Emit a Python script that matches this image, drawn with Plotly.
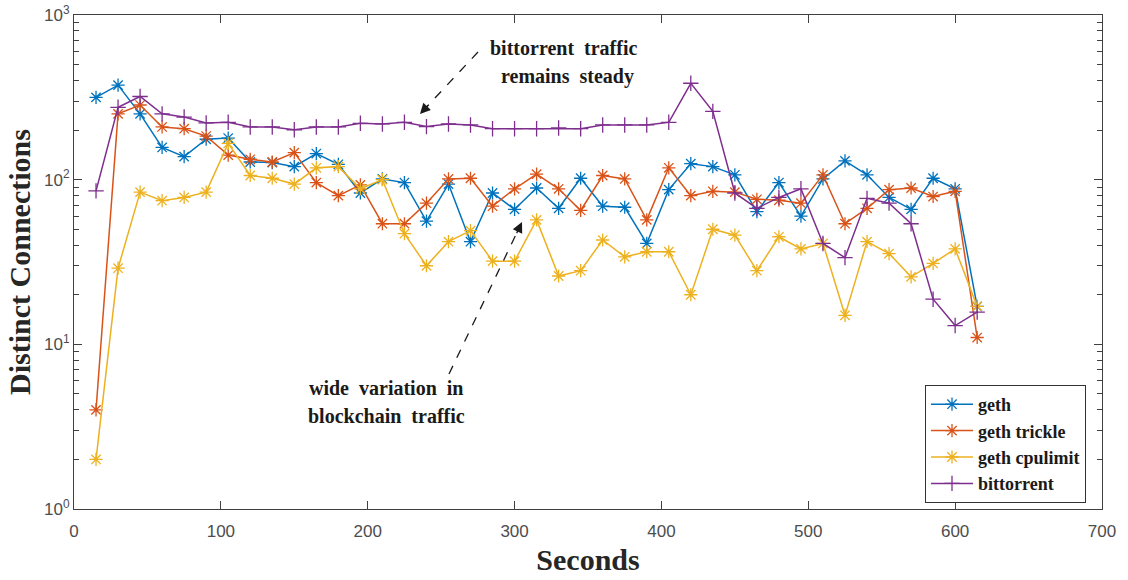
import plotly.graph_objects as go

seconds = [15, 30, 45, 60, 75, 90, 105, 120, 135, 150,
           165, 180, 195, 210, 225, 240, 255, 270, 285, 300,
           315, 330, 345, 360, 375, 390, 405, 420, 435, 450,
           465, 480, 495, 510, 525, 540, 555, 570, 585, 600, 615]

geth = [316, 375, 251, 157, 138, 176, 179, 128, 127, 120,
        144, 124, 83, 101, 96, 56, 94, 42, 83, 66,
        89, 67, 102, 69, 68, 41, 87, 125, 120, 107,
        64, 96, 60, 101, 130, 107, 78, 66, 102, 88, 17]

geth_trickle = [4, 251, 284, 209, 204, 184, 141, 133, 128, 146,
                96, 80, 93, 54, 54, 72, 101, 102, 69, 88,
                108, 88, 65, 106, 101, 57, 118, 80, 85, 84,
                76, 75, 72, 107, 54, 67, 87, 89, 79, 85, 11]

geth_cpulimit = [2, 29, 84, 74.5, 78, 84, 166, 106, 102, 94,
                 118, 120, 88, 100, 47, 30, 42, 49, 32, 32,
                 57, 26, 28, 43, 34, 36.5, 36.5, 20, 50, 46,
                 28, 45, 38, 41, 15, 42, 35.6, 25.7, 31, 38, 17]

bittorrent = [85.5, 275, 320, 251, 240, 221, 223, 209, 209, 201,
              209, 209, 220, 218, 223, 210, 218, 215, 204, 204,
              204, 206, 204, 215, 215, 215, 223, 385, 260, 83,
              67, 78, 88, 41, 33.6, 77, 72, 54, 18.8, 13, 15.7]

series_names = ["geth", "geth trickle", "geth cpulimit", "bittorrent"]
series_values = [geth, geth_trickle, geth_cpulimit, bittorrent]
colors = ["#0072BD", "#D95319", "#EDB120", "#7E2F8E"]
symbols = ["asterisk-open", "asterisk-open", "asterisk-open", "cross-thin-open"]

y_tickvals = [1, 10, 100, 1000]
y_ticktext = ["10<sup>0</sup>", "10<sup>1</sup>", "10<sup>2</sup>", "10<sup>3</sup>"]
y_minor = [m * d for d in [1, 10, 100] for m in range(2, 10)]
x_tickvals = [0, 100, 200, 300, 400, 500, 600, 700]

fig = go.Figure()
for name, vals, c, s in zip(series_names, series_values, colors, symbols):
    fig.add_trace(go.Scatter(
        x=seconds, y=vals, name="<b>" + name + "</b>", mode="lines+markers",
        line=dict(color=c, width=1.5),
        marker=dict(symbol=s, size=11, color=c, line=dict(color=c, width=1.3)),
    ))

# plot area in pixels
L, R, T, B = 74, 1102, 15, 509
W, H = R - L, B - T

def px(x):
    return (x - L) / W

def py(y):
    return (B - y) / H

axis_font = dict(family="Liberation Sans, Arial", size=17, color="#4d4d4d")
title_font = dict(family="Liberation Serif, Times New Roman", size=30, color="#262626")
ann_font = dict(family="Liberation Serif, Times New Roman", size=20, color="#1a1a1a")

fig.update_layout(
    width=1128, height=580,
    margin=dict(l=L, r=1128 - R, t=T, b=580 - B),
    paper_bgcolor="white", plot_bgcolor="white",
    showlegend=True,
    legend=dict(
        x=px(1086), y=py(503), xanchor="right", yanchor="bottom",
        bgcolor="white", bordercolor="#333333", borderwidth=1,
        font=dict(family="Liberation Serif, Times New Roman", size=18, color="#1a1a1a"),
        tracegroupgap=0, itemwidth=42,
    ),
    xaxis=dict(
        range=[0, 700], tickvals=x_tickvals, ticks="inside", ticklen=8,
        tickcolor="#404040", showline=True, linecolor="#404040", linewidth=1,
        mirror="ticks", showgrid=False, zeroline=False, tickfont=axis_font,
        ticklabelstandoff=7, automargin=False,
        title=dict(text="<b>Seconds</b>", font=title_font, standoff=8),
    ),
    yaxis=dict(
        type="log", range=[0, 3], tickvals=y_tickvals, ticktext=y_ticktext,
        ticks="inside", ticklen=8, tickcolor="#404040",
        showline=True, linecolor="#404040", linewidth=1, mirror="ticks",
        showgrid=False, zeroline=False, tickfont=axis_font, automargin=False,
        minor=dict(tickvals=y_minor, ticks="inside", ticklen=5, tickcolor="#404040", showgrid=False),
        title=dict(text="<b>Distinct Connections</b>", font=title_font, standoff=4),
    ),
)

# text annotations
texts = [
    ("<b>bittorrent  traffic</b>", 563, 48),
    ("<b>remains  steady</b>", 567, 76),
    ("<b>wide  variation  in</b>", 386, 388),
    ("<b>blockchain  traffic</b>", 386, 416),
]
for t, x, y in texts:
    fig.add_annotation(text=t, x=px(x), y=py(y), xref="paper", yref="paper",
                       showarrow=False, font=ann_font, xanchor="center", yanchor="middle")

# dashed arrows
arrows = [((478, 52), (420, 114)), ((449, 374), (522, 222))]
for (x0, y0), (x1, y1) in arrows:
    dx, dy = x1 - x0, y1 - y0
    ln = (dx * dx + dy * dy) ** 0.5
    ux, uy = dx / ln, dy / ln
    ex, ey = x1 - 10 * ux, y1 - 10 * uy
    fig.add_shape(type="line", xref="paper", yref="paper",
                  x0=px(x0), y0=py(y0), x1=px(ex), y1=py(ey),
                  line=dict(color="#1a1a1a", width=1.3, dash="dash"))
    fig.add_annotation(x=px(x1), y=py(y1), xref="paper", yref="paper",
                       ax=-14 * ux, ay=-14 * uy, text="", showarrow=True,
                       arrowhead=2, arrowsize=1.6, arrowwidth=1.3, arrowcolor="#1a1a1a")

fig.write_html("out.html")
